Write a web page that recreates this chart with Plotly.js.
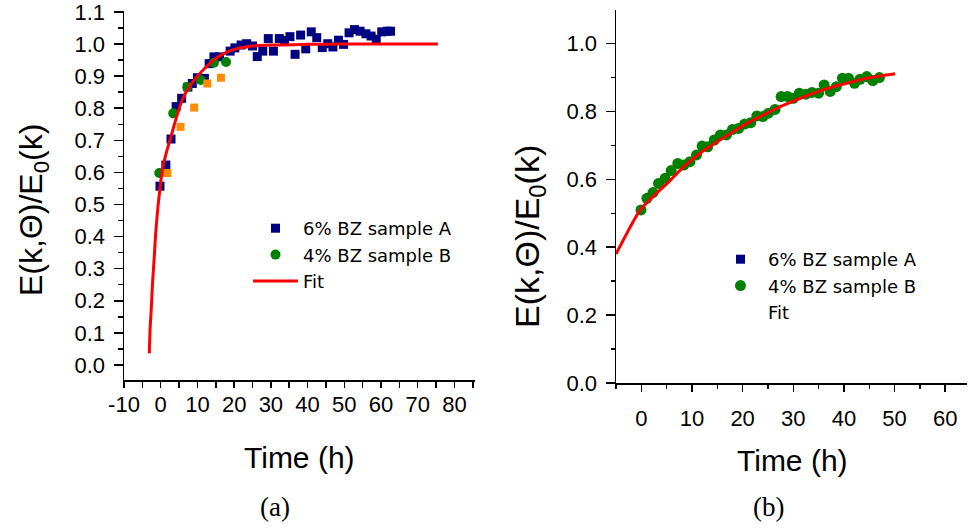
<!DOCTYPE html>
<html>
<head>
<meta charset="utf-8">
<script src="https://cdn.plot.ly/plotly-3.0.1.min.js"></script>
<style>html,body{margin:0;padding:0;background:#fff;}#chart{width:968px;height:529px;}</style>
</head>
<body>
<div id="chart"></div>
<script>
// ---- Panel (a) data ----
const aSampleA_x = [-0.2, 1.4, 2.8, 4.2, 5.7, 7.4, 8.6, 10.0, 11.9, 13.2, 14.5, 16.0, 18.9, 20.2, 21.9, 23.4, 25.0, 26.3, 27.8, 29.3, 30.7, 32.3, 33.7, 35.2, 36.6, 38.1, 39.5, 41.0, 42.5, 44.0, 45.5, 46.9, 48.4, 49.8, 51.3, 52.8, 54.3, 55.9, 57.3, 58.7, 60.2, 61.7, 62.6];
const aSampleA_y = [0.557, 0.623, 0.704, 0.805, 0.831, 0.866, 0.877, 0.895, 0.893, 0.939, 0.960, 0.960, 0.978, 0.988, 0.997, 1.001, 0.994, 0.961, 0.978, 1.017, 0.978, 1.017, 1.011, 1.023, 0.968, 1.028, 0.985, 1.038, 1.020, 0.989, 1.001, 0.991, 1.012, 0.999, 1.035, 1.045, 1.040, 1.032, 1.025, 1.015, 1.038, 1.040, 1.040];
const aSampleB_x = [-0.4, 3.4, 7.2, 10.9, 14.5, 17.8];
const aSampleB_y = [0.598, 0.784, 0.866, 0.888, 0.942, 0.944];
const aOther_x = [1.8, 5.4, 9.1, 12.7, 16.4];
const aOther_y = [0.598, 0.742, 0.802, 0.877, 0.895];
const aFit_x = [-3.1, -2.9, -2.6, -2.2, -1.8, -1.3, -0.5, 0.5, 1.5, 3, 4.5, 6, 8, 10, 12.5, 15, 18, 21.5, 25, 30, 40, 50, 60, 75.5];
const aFit_y = [0.036, 0.11, 0.17, 0.26, 0.33, 0.42, 0.52, 0.61, 0.66, 0.72, 0.78, 0.83, 0.87, 0.90, 0.93, 0.955, 0.975, 0.988, 0.994, 0.997, 0.999, 1.0, 1.0, 1.0];
const aXTicks = [-10, 0, 10, 20, 30, 40, 50, 60, 70, 80];
const aYTicks = [0.0, 0.1, 0.2, 0.3, 0.4, 0.5, 0.6, 0.7, 0.8, 0.9, 1.0, 1.1];

// ---- Panel (b) data ----
const bSampleB_x = [-0.06, 1.1, 2.3, 3.4, 4.7, 5.9, 7.2, 8.4, 9.6, 10.9, 12.0, 13.1, 14.4, 15.6, 16.8, 18.0, 19.2, 20.4, 21.6, 22.8, 24.0, 25.1, 26.4, 27.6, 28.9, 30.0, 31.2, 32.5, 33.7, 35.0, 36.1, 37.3, 38.5, 39.7, 40.9, 42.1, 43.2, 44.5, 45.7, 47.0];
const bSampleB_y = [0.510, 0.544, 0.561, 0.588, 0.603, 0.626, 0.647, 0.642, 0.652, 0.672, 0.698, 0.696, 0.716, 0.731, 0.731, 0.747, 0.750, 0.763, 0.767, 0.787, 0.785, 0.795, 0.806, 0.844, 0.844, 0.839, 0.854, 0.851, 0.856, 0.854, 0.878, 0.859, 0.873, 0.898, 0.898, 0.883, 0.895, 0.903, 0.891, 0.900];
const bFit_x = [-5.0, -2.5, -0.2, 2.5, 5.1, 8.3, 11.6, 15.0, 18.2, 21.5, 24.8, 28.0, 31.4, 34.6, 37.9, 41.2, 44.5, 47.3, 50.1];
const bFit_y = [0.380, 0.451, 0.510, 0.552, 0.588, 0.636, 0.677, 0.711, 0.741, 0.770, 0.795, 0.818, 0.839, 0.857, 0.873, 0.886, 0.898, 0.905, 0.911];
const bXTicks = [0, 10, 20, 30, 40, 50, 60];
const bYTicks = [0.0, 0.2, 0.4, 0.6, 0.8, 1.0];

const NAVY = '#000080', GREEN = '#008000', ORANGE = '#ff8c00', RED = '#ff0000';
const FONT = 'Liberation Sans, Arial, sans-serif';
const LEGFONT = 'DejaVu Sans, sans-serif';

const traces = [
  {x: aSampleA_x, y: aSampleA_y, xaxis: 'x', yaxis: 'y', mode: 'markers', name: '6% BZ sample A',
   marker: {symbol: 'square', size: 9, color: NAVY}, legend: 'legend'},
  {x: aSampleB_x, y: aSampleB_y, xaxis: 'x', yaxis: 'y', mode: 'markers', name: '4% BZ sample B',
   marker: {symbol: 'circle', size: 10, color: GREEN}, legend: 'legend'},
  {x: aOther_x, y: aOther_y, xaxis: 'x', yaxis: 'y', mode: 'markers', name: 'other', showlegend: false,
   marker: {symbol: 'square', size: 8, color: ORANGE}},
  {x: aFit_x, y: aFit_y, xaxis: 'x', yaxis: 'y', mode: 'lines', name: 'Fit',
   line: {color: RED, width: 3, shape: 'spline', smoothing: 0.8}, legend: 'legend'},
  // panel b
  {x: [null], y: [null], xaxis: 'x2', yaxis: 'y2', mode: 'markers', name: '6% BZ sample A',
   marker: {symbol: 'square', size: 9, color: NAVY}, legend: 'legend2'},
  {x: bSampleB_x, y: bSampleB_y, xaxis: 'x2', yaxis: 'y2', mode: 'markers', name: '4% BZ sample B',
   marker: {symbol: 'circle', size: 11, color: GREEN}, legend: 'legend2'},
  {x: [null], y: [null], xaxis: 'x2', yaxis: 'y2', mode: 'lines', name: 'Fit',
   line: {color: 'rgba(0,0,0,0)', width: 0}, legend: 'legend2'},
  {x: bFit_x, y: bFit_y, xaxis: 'x2', yaxis: 'y2', mode: 'lines', name: 'Fit', showlegend: false,
   line: {color: RED, width: 3, shape: 'spline', smoothing: 0.8}}
];

const W = 968, H = 529;
const px = v => v / W, py = v => 1 - v / H;

const axisCommon = {
  showgrid: false, zeroline: false, showline: true, linecolor: '#000', linewidth: 1.5,
  ticks: 'outside', tickcolor: '#000', tickwidth: 1.5, ticklabeloverflow: 'allow',
  tickfont: {family: FONT, size: 22, color: '#000'}, automargin: false, fixedrange: true
};

const layout = {
  width: W, height: H,
  margin: {l: 0, r: 0, t: 0, b: 0},
  paper_bgcolor: '#fff', plot_bgcolor: '#fff',
  font: {family: FONT, color: '#000'},
  xaxis: Object.assign({}, axisCommon, {
    domain: [px(124), px(475)], range: [-10, 85.6], anchor: 'y',
    tickvals: aXTicks, ticktext: aXTicks.map(String), ticklen: 6,
    minor: {dtick: 5, tick0: -10, ticks: 'outside', ticklen: 6, tickwidth: 1.5, tickcolor: '#000', showgrid: false},
    ticklabelstandoff: -2
  }),
  yaxis: Object.assign({}, axisCommon, {
    domain: [py(380), py(11)], range: [-0.047, 1.103], anchor: 'x',
    tickvals: aYTicks, ticktext: aYTicks.map(v => v.toFixed(1)), ticklen: 9,
    minor: {dtick: 0.05, tick0: 0, ticks: 'outside', ticklen: 5, tickwidth: 1.5, tickcolor: '#000', showgrid: false},
    ticklabelstandoff: 4
  }),
  xaxis2: Object.assign({}, axisCommon, {
    domain: [px(616), px(967)], range: [-5, 64.3], anchor: 'y2',
    tickvals: bXTicks, ticktext: bXTicks.map(String), ticklen: 7,
    minor: {dtick: 5, tick0: 0, ticks: 'outside', ticklen: 4, tickwidth: 1.5, tickcolor: '#000', showgrid: false},
    ticklabelstandoff: 8
  }),
  yaxis2: Object.assign({}, axisCommon, {
    domain: [py(383), py(10)], range: [0, 1.099], anchor: 'x2',
    tickvals: bYTicks, ticktext: bYTicks.map(v => v.toFixed(1)), ticklen: 9,
    minor: {dtick: 0.1, tick0: 0, ticks: 'outside', ticklen: 4, tickwidth: 1.5, tickcolor: '#000', showgrid: false},
    ticklabelstandoff: 4
  }),
  legend: {
    x: px(248), y: py(210), xanchor: 'left', yanchor: 'top',
    bgcolor: 'rgba(0,0,0,0)', borderwidth: 0, itemwidth: 45,
    font: {family: LEGFONT, size: 18, color: '#000'}, tracegroupgap: 0
  },
  legend2: {
    x: px(713), y: py(241), xanchor: 'left', yanchor: 'top',
    bgcolor: 'rgba(0,0,0,0)', borderwidth: 0, itemwidth: 45,
    font: {family: LEGFONT, size: 18, color: '#000'}, tracegroupgap: 0
  },
  annotations: [
    {text: 'Time (h)', xref: 'paper', yref: 'paper', x: px(299), y: py(457), xanchor: 'center', yanchor: 'middle',
     showarrow: false, font: {family: FONT, size: 30, color: '#000'}},
    {text: 'Time (h)', xref: 'paper', yref: 'paper', x: px(792), y: py(460), xanchor: 'center', yanchor: 'middle',
     showarrow: false, font: {family: FONT, size: 30, color: '#000'}},
    {text: 'E(k,Θ)/E<sub>0</sub>(k)', xref: 'paper', yref: 'paper', x: px(33), y: py(210), xanchor: 'center', yanchor: 'middle',
     textangle: -90, showarrow: false, font: {family: FONT, size: 32, color: '#000'}},
    {text: 'E(k,Θ)/E<sub>0</sub>(k)', xref: 'paper', yref: 'paper', x: px(529), y: py(237), xanchor: 'center', yanchor: 'middle',
     textangle: -90, showarrow: false, font: {family: FONT, size: 34, color: '#000'}},
    {text: '(a)', xref: 'paper', yref: 'paper', x: px(275), y: py(507), xanchor: 'center', yanchor: 'middle',
     showarrow: false, font: {family: 'Liberation Serif, DejaVu Serif, serif', size: 27, color: '#000'}},
    {text: '(b)', xref: 'paper', yref: 'paper', x: px(768), y: py(507), xanchor: 'center', yanchor: 'middle',
     showarrow: false, font: {family: 'Liberation Serif, DejaVu Serif, serif', size: 27, color: '#000'}}
  ]
};

Plotly.newPlot('chart', traces, layout, {staticPlot: true, displayModeBar: false});
</script>
</body>
</html>
